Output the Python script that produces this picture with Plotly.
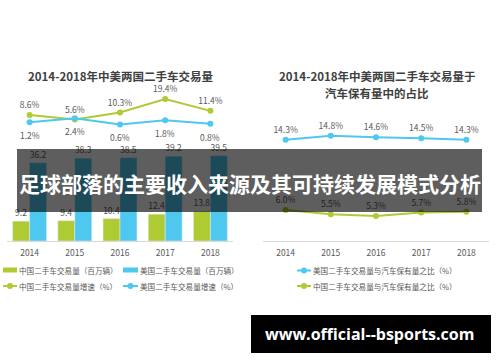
import plotly.graph_objects as go

years = ["2014", "2015", "2016", "2017", "2018"]
cn_volume = [9.2, 9.4, 10.4, 12.4, 13.8]
us_volume = [36.2, 38.3, 38.5, 39.2, 39.5]
cn_growth = [8.6, 5.6, 10.3, 19.4, 11.4]
us_growth = [1.2, 2.4, 0.6, 1.8, 0.8]
us_ratio = [14.3, 14.8, 14.6, 14.5, 14.3]
cn_ratio = [6.0, 5.5, 5.3, 5.7, 5.8]

title_left = "2014-2018年中美两国二手车交易量"
title_right_1 = "2014-2018年中美两国二手车交易量于"
title_right_2 = "汽车保有量中的占比"
legend_left = ["中国二手车交易量（百万辆）", "美国二手车交易量（百万辆）",
               "中国二手车交易量增速（%）", "美国二手车交易量增速（%）"]
legend_right = ["美国二手车交易量与汽车保有量之比（%）", "中国二手车交易量与汽车保有量之比（%）"]
banner_text = "足球部落的主要收入来源及其可持续发展模式分析"
watermark_text = "www.official--bsports.com"

GREEN = "#AECB34"
BLUE = "#4FC8F0"
GREY = "#595959"
FONT = "Noto Sans CJK SC"
W, H = 500, 362


def px(x):
    return x / W


def py(y):
    return 1 - y / H


fig = go.Figure()

lbl = dict(family=FONT, size=8.5, color=GREY)

fig.add_trace(go.Bar(x=years, y=cn_volume, marker_color=GREEN, text=[f"{v}" for v in cn_volume],
                     textposition="outside", textfont=lbl, cliponaxis=False,
                     xaxis="x", yaxis="y", showlegend=False))
fig.add_trace(go.Bar(x=years, y=us_volume, marker_color=BLUE, text=[f"{v}" for v in us_volume],
                     textposition="outside", textfont=lbl, cliponaxis=False,
                     xaxis="x", yaxis="y", showlegend=False))
fig.add_trace(go.Scatter(x=years, y=cn_growth, mode="lines+markers+text",
                         line=dict(color=GREEN, width=2), marker=dict(size=6, color=GREEN),
                         text=[f"{v}%" for v in cn_growth], textposition="top center",
                         textfont=lbl, cliponaxis=False, xaxis="x", yaxis="y2", showlegend=False))
fig.add_trace(go.Scatter(x=years, y=us_growth, mode="lines+markers",
                         line=dict(color=BLUE, width=2), marker=dict(size=6, color=BLUE),
                         cliponaxis=False, xaxis="x", yaxis="y3", showlegend=False))
fig.add_trace(go.Scatter(x=years, y=us_ratio, mode="lines+markers+text",
                         line=dict(color=BLUE, width=2), marker=dict(size=6, color=BLUE),
                         text=[f"{v:.1f}%" for v in us_ratio], textposition="top center",
                         textfont=lbl, cliponaxis=False, xaxis="x2", yaxis="y4", showlegend=False))
fig.add_trace(go.Scatter(x=years, y=cn_ratio, mode="lines+markers+text",
                         line=dict(color=GREEN, width=2), marker=dict(size=6, color=GREEN),
                         text=[f"{v:.1f}%" for v in cn_ratio], textposition="top center",
                         textfont=lbl, cliponaxis=False, xaxis="x2", yaxis="y4", showlegend=False))

ydom = [py(241), py(60)]
xaxis_common = dict(type="category", showgrid=False, zeroline=False, showline=True,
                    linecolor="#D9D9D9", linewidth=1, ticks="", range=[-0.5, 4.5],
                    tickfont=dict(family=FONT, size=8.5, color=GREY), ticklabelstandoff=4)
hidden_y = dict(visible=False, showgrid=False, zeroline=False)

fig.update_layout(
    width=W, height=H, margin=dict(l=0, r=0, t=0, b=0),
    paper_bgcolor="white", plot_bgcolor="white",
    barmode="group", bargap=0.25, bargroupgap=0,
    xaxis=dict(domain=[px(7), px(233)], anchor="y", **xaxis_common),
    xaxis2=dict(domain=[px(263), px(489)], anchor="y4", **xaxis_common),
    yaxis=dict(domain=ydom, range=[0, 83.8], anchor="x", **hidden_y),
    yaxis2=dict(domain=ydom, range=[-76.1, 45.6], overlaying="y", anchor="x", **hidden_y),
    yaxis3=dict(domain=ydom, range=[-33.76, 19.57], overlaying="y", anchor="x", **hidden_y),
    yaxis4=dict(domain=ydom, range=[2.33, 23.75], anchor="x2", **hidden_y),
)

ann = []
shapes = []

# US growth labels below points (category index used for x)
for i, v in enumerate(us_growth):
    ann.append(dict(x=i, y=v, xref="x", yref="y3", text=f"{v}%", showarrow=False,
                    font=lbl, yshift=-13, xanchor="center", yanchor="middle"))

tfont = dict(family=FONT, size=11.5, color="#404040")
ann.append(dict(x=px(121), y=py(76), xref="paper", yref="paper", text=f"<b>{title_left}</b>",
                showarrow=False, font=tfont, xanchor="center", yanchor="middle"))
ann.append(dict(x=px(377), y=py(76), xref="paper", yref="paper", text=f"<b>{title_right_1}</b>",
                showarrow=False, font=tfont, xanchor="center", yanchor="middle"))
ann.append(dict(x=px(377), y=py(93), xref="paper", yref="paper", text=f"<b>{title_right_2}</b>",
                showarrow=False, font=tfont, xanchor="center", yanchor="middle"))

lfont = dict(family=FONT, size=7.6, color=GREY)


def leg_text(x, y, t):
    ann.append(dict(x=px(x - 2), y=py(y), xref="paper", yref="paper", text=t, showarrow=False,
                    font=lfont, xanchor="left", yanchor="middle"))


def leg_rect(x0, x1, y, c):
    shapes.append(dict(type="rect", xref="paper", yref="paper", x0=px(x0), x1=px(x1),
                       y0=py(y + 2.5), y1=py(y - 2.5), fillcolor=c, line=dict(width=0)))


def leg_line(x0, x1, y, c):
    shapes.append(dict(type="line", xref="paper", yref="paper", x0=px(x0), x1=px(x1),
                       y0=py(y), y1=py(y), line=dict(color=c, width=2)))
    xm = (x0 + x1) / 2
    shapes.append(dict(type="circle", xref="paper", yref="paper", x0=px(xm - 3), x1=px(xm + 3),
                       y0=py(y + 3), y1=py(y - 3), fillcolor=c, line=dict(width=0)))


leg_rect(3, 17, 270, GREEN)
leg_text(18.5, 270, legend_left[0])
leg_rect(123, 138, 270, BLUE)
leg_text(139.5, 270, legend_left[1])
leg_line(3, 17, 286, GREEN)
leg_text(18.5, 286, legend_left[2])
leg_line(123, 138, 286, BLUE)
leg_text(139.5, 286, legend_left[3])

leg_line(297, 311, 270.5, BLUE)
leg_text(312.5, 270.5, legend_right[0])
leg_line(297, 311, 286, GREEN)
leg_text(312.5, 286, legend_right[1])

# banner overlay
shapes.append(dict(type="rect", xref="paper", yref="paper", x0=px(17), x1=px(482),
                   y0=py(212), y1=py(149), fillcolor="rgba(0,0,0,0.63)", line=dict(width=0),
                   layer="above"))
ann.append(dict(x=px(250), y=py(183), xref="paper", yref="paper", text=f"<b>{banner_text}</b>",
                showarrow=False, font=dict(family=FONT, size=21, color="white"),
                xanchor="center", yanchor="middle"))

# watermark box
shapes.append(dict(type="rect", xref="paper", yref="paper", x0=px(251), x1=px(491),
                   y0=py(353), y1=py(315), fillcolor="black", line=dict(width=0), layer="above"))
ann.append(dict(x=px(369), y=py(334), xref="paper", yref="paper", text=f"<b>{watermark_text}</b>",
                showarrow=False, font=dict(family="Open Sans", size=16, color="white"),
                xanchor="center", yanchor="middle"))

fig.update_layout(annotations=ann, shapes=shapes)
fig.write_html("out.html", config={"displayModeBar": False},
               post_script="document.body.style.margin='0px';document.body.style.padding='0px';")
